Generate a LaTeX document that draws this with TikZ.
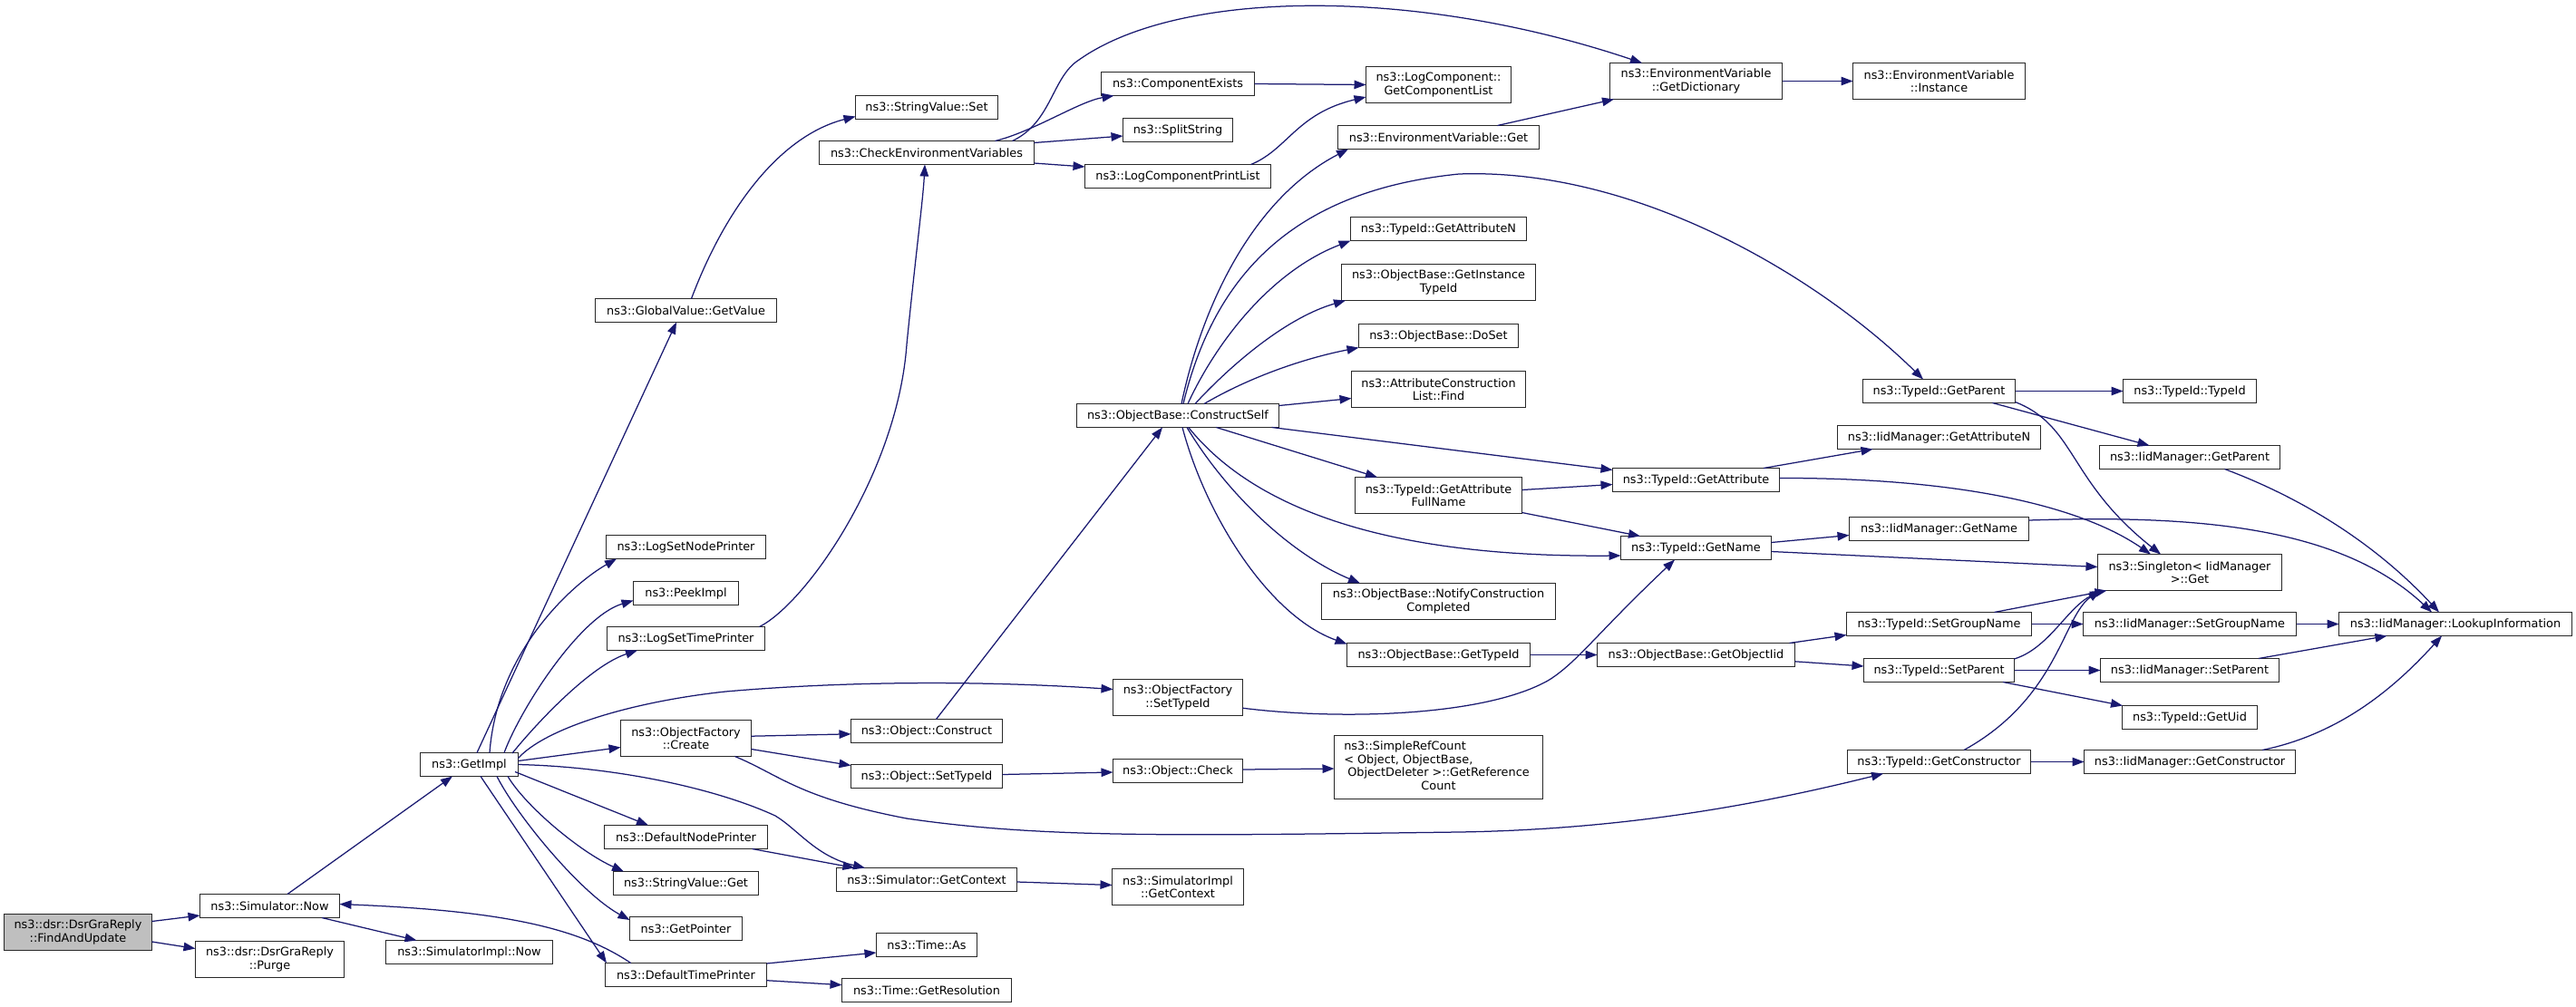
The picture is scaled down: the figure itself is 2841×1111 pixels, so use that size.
\documentclass[tikz,border=0pt]{standalone}
\usepackage{fontspec}
\setmainfont{DejaVu Sans}
\usetikzlibrary{arrows.meta}
\definecolor{edgeblue}{RGB}{25,25,112}
\definecolor{rootgray}{RGB}{191,191,191}
\definecolor{boxline}{RGB}{40,40,40}
\newcommand\nf{\fontsize{12.85}{14.5}\selectfont}
\tikzset{
  fn/.style={draw=boxline, line width=1.3pt, fill=white, inner sep=0pt, minimum height=26pt, font=\nf, align=center, text=black},
  fn2/.style={fn, minimum height=40pt},
  cg/.style={draw=edgeblue, line width=1.25pt, -{Triangle[length=13pt,width=9.5pt]}},
}
\begin{document}
\begin{tikzpicture}[x=1pt,y=-1pt]
\useasboundingbox (0,0) rectangle (2841,1111);
\fill[white] (0,0) rectangle (2841,1111);
% rank 0
\node[fn2, fill=rootgray, minimum width=163pt] (n1) at (86,1028.5) {ns3::dsr::DsrGraReply\\::FindAndUpdate};
% rank 1
\node[fn, minimum width=154pt] (simNow) at (297.5,999.5) {ns3::Simulator::Now};
\node[fn2, minimum width=164pt] (purge) at (297.5,1058.5) {ns3::dsr::DsrGraReply\\::Purge};
% rank 2
\node[fn, minimum width=108pt] (getImpl) at (517.5,843.5) {ns3::GetImpl};
\node[fn, minimum width=184pt] (simImplNow) at (517.5,1050.5) {ns3::SimulatorImpl::Now};
% rank 3
\node[fn, minimum width=200pt] (gvGetValue) at (756.5,342.5) {ns3::GlobalValue::GetValue};
\node[fn, minimum width=176pt] (logSetNode) at (756.5,603.5) {ns3::LogSetNodePrinter};
\node[fn, minimum width=116pt] (peekImpl) at (756.5,654.5) {ns3::PeekImpl};
\node[fn, minimum width=174pt] (logSetTime) at (756.5,704.5) {ns3::LogSetTimePrinter};
\node[fn2, minimum width=144pt] (ofCreate) at (756.5,814.5) {ns3::ObjectFactory\\::Create};
\node[fn, minimum width=180pt] (defNode) at (756.5,923.5) {ns3::DefaultNodePrinter};
\node[fn, minimum width=160pt] (svGet) at (756.5,974.5) {ns3::StringValue::Get};
\node[fn, minimum width=124pt] (getPointer) at (756.5,1024.5) {ns3::GetPointer};
\node[fn, minimum width=178pt] (defTime) at (756.5,1075.5) {ns3::DefaultTimePrinter};
% rank 4
\node[fn, minimum width=157pt] (svSet) at (1022,118.5) {ns3::StringValue::Set};
\node[fn, minimum width=237pt] (checkEnv) at (1022,168.5) {ns3::CheckEnvironmentVariables};
\node[fn, minimum width=167pt] (objConstruct) at (1022,806.5) {ns3::Object::Construct};
\node[fn, minimum width=167pt] (objSetTypeId) at (1022,856.5) {ns3::Object::SetTypeId};
\node[fn, minimum width=199pt] (simGetContext) at (1022,970.5) {ns3::Simulator::GetContext};
\node[fn, minimum width=111pt] (timeAs) at (1022,1042.5) {ns3::Time::As};
\node[fn, minimum width=187pt] (timeRes) at (1022,1092.5) {ns3::Time::GetResolution};
% rank 5
\node[fn, minimum width=169pt] (compExists) at (1299,92.5) {ns3::ComponentExists};
\node[fn, minimum width=121pt] (splitString) at (1299,143.5) {ns3::SplitString};
\node[fn, minimum width=205pt] (logCompPrint) at (1299,194.5) {ns3::LogComponentPrintList};
\node[fn, minimum width=223pt] (constructSelf) at (1299,458.5) {ns3::ObjectBase::ConstructSelf};
\node[fn2, minimum width=143pt] (ofSetTypeId) at (1299,769.5) {ns3::ObjectFactory\\::SetTypeId};
\node[fn, minimum width=143pt] (objCheck) at (1299,850.5) {ns3::Object::Check};
\node[fn2, minimum width=145pt] (simImplGetCtx) at (1299,978.5) {ns3::SimulatorImpl\\::GetContext};
% rank 6
\node[fn2, minimum width=160pt] (getCompList) at (1586.5,93.5) {ns3::LogComponent::\\GetComponentList};
\node[fn, minimum width=222pt] (envGet) at (1586.5,151.5) {ns3::EnvironmentVariable::Get};
\node[fn, minimum width=194pt] (tidGetAttrN) at (1586.5,252.5) {ns3::TypeId::GetAttributeN};
\node[fn2, minimum width=214pt] (getInstTid) at (1586.5,311.5) {ns3::ObjectBase::GetInstance\\TypeId};
\node[fn, minimum width=176pt] (doSet) at (1586.5,370.5) {ns3::ObjectBase::DoSet};
\node[fn2, minimum width=192pt] (aclFind) at (1586.5,429.5) {ns3::AttributeConstruction\\List::Find};
\node[fn2, minimum width=184pt] (getAttrFull) at (1586.5,546.5) {ns3::TypeId::GetAttribute\\FullName};
\node[fn2, minimum width=258pt] (notify) at (1586.5,663.5) {ns3::ObjectBase::NotifyConstruction\\Completed};
\node[fn, minimum width=202pt] (obGetTypeId) at (1586.5,722.5) {ns3::ObjectBase::GetTypeId};
\node[fn, minimum width=230pt, minimum height=70pt] (simpleRef) at (1586.5,846.5) {\begin{tabular}{@{}l@{}}\hspace*{-4pt}ns3::SimpleRefCount\\\hspace*{-4pt}< Object, ObjectBase,\\\multicolumn{1}{@{}c@{}}{ObjectDeleter >::GetReference}\\\multicolumn{1}{@{}c@{}}{Count}\end{tabular}};
% rank 7
\node[fn2, minimum width=190pt] (getDict) at (1870.5,89.5) {ns3::EnvironmentVariable\\::GetDictionary};
\node[fn, minimum width=184pt] (tidGetAttr) at (1870.5,529.5) {ns3::TypeId::GetAttribute};
\node[fn, minimum width=166pt] (tidGetName) at (1870.5,604.5) {ns3::TypeId::GetName};
\node[fn, minimum width=218pt] (getObjIid) at (1870.5,722.5) {ns3::ObjectBase::GetObjectIid};
% rank 8
\node[fn2, minimum width=190pt] (envInstance) at (2138.5,89.5) {ns3::EnvironmentVariable\\::Instance};
\node[fn, minimum width=168pt] (tidGetParent) at (2138.5,431.5) {ns3::TypeId::GetParent};
\node[fn, minimum width=224pt] (iidGetAttrN) at (2138.5,482.5) {ns3::IidManager::GetAttributeN};
\node[fn, minimum width=198pt] (iidGetName) at (2138.5,583.5) {ns3::IidManager::GetName};
\node[fn, minimum width=204pt] (tidSetGroup) at (2138.5,688.5) {ns3::TypeId::SetGroupName};
\node[fn, minimum width=166pt] (tidSetParent) at (2138.5,739.5) {ns3::TypeId::SetParent};
\node[fn, minimum width=202pt] (tidGetCtor) at (2138.5,840.5) {ns3::TypeId::GetConstructor};
% rank 9
\node[fn, minimum width=147pt] (tidTypeId) at (2415,431.5) {ns3::TypeId::TypeId};
\node[fn, minimum width=199pt] (iidGetParent) at (2415,504.5) {ns3::IidManager::GetParent};
\node[fn2, minimum width=203pt] (singleton) at (2415,631.5) {ns3::Singleton< IidManager\\ >::Get};
\node[fn, minimum width=235pt] (iidSetGroup) at (2415,688.5) {ns3::IidManager::SetGroupName};
\node[fn, minimum width=197pt] (iidSetParent) at (2415,739.5) {ns3::IidManager::SetParent};
\node[fn, minimum width=149pt] (tidGetUid) at (2415,791.5) {ns3::TypeId::GetUid};
\node[fn, minimum width=233pt] (iidGetCtor) at (2415,840.5) {ns3::IidManager::GetConstructor};
% rank 10
\node[fn, minimum width=257pt] (lookup) at (2708,688.5) {ns3::IidManager::LookupInformation};

% ---- edges ----
\draw[cg] ([shift={(81.5,-12)}]n1.center) -- ([shift={(-77,10.5)}]simNow.center);
\draw[cg] ([shift={(81.5,10.5)}]n1.center) -- ([shift={(-82,-12)}]purge.center);
\draw[cg] ([shift={(19.5,-13)}]simNow.center) -- ([shift={(-18.5,13)}]getImpl.center);
\draw[cg] ([shift={(57.5,13)}]simNow.center) -- ([shift={(-58,-13)}]simImplNow.center);
\draw[cg] ([shift={(8.5,-13)}]getImpl.center) -- ([shift={(-10.5,13)}]gvGetValue.center);
\draw[cg] ([shift={(22.5,-13)}]getImpl.center) .. controls (548,720) and (630,645) .. ([shift={(-76.5,13)}]logSetNode.center);
\draw[cg] ([shift={(38.5,-13)}]getImpl.center) .. controls (575,780) and (640,680) .. ([shift={(-58,8)}]peekImpl.center);
\draw[cg] ([shift={(47.5,-12.5)}]getImpl.center) .. controls (590,800) and (650,735) .. ([shift={(-53.5,13)}]logSetTime.center);
\draw[cg] ([shift={(54,-7)}]getImpl.center) .. controls (600,805) and (690,775) .. (800,763) .. controls (950,750) and (1100,752) .. ([shift={(-71.5,-9)}]ofSetTypeId.center);
\draw[cg] ([shift={(54,-4)}]getImpl.center) -- ([shift={(-72,10)}]ofCreate.center);
\draw[cg] ([shift={(54,0)}]getImpl.center) .. controls (680,846) and (790,870) .. (855,900) .. controls (880,915) and (900,945) .. ([shift={(-68,-13)}]simGetContext.center);
\draw[cg] ([shift={(50.5,8)}]getImpl.center) -- ([shift={(-41.5,-13)}]defNode.center);
\draw[cg] ([shift={(42.5,13)}]getImpl.center) .. controls (580,890) and (640,940) .. ([shift={(-68.5,-13)}]svGet.center);
\draw[cg] ([shift={(30.5,13)}]getImpl.center) .. controls (570,900) and (640,985) .. ([shift={(-62,-9.5)}]getPointer.center);
\draw[cg] ([shift={(12.5,13)}]getImpl.center) -- ([shift={(-87.5,-13)}]defTime.center);
\draw[cg] ([shift={(-60.8,-13)}]defTime.center) .. controls (640,1025) and (560,1005) .. ([shift={(77,-2)}]simNow.center);
\draw[cg] ([shift={(81,-13)}]logSetTime.center) .. controls (890,665) and (990,520) .. (1000,380) .. controls (1010,280) and (1018,220) .. ([shift={(-2,13)}]checkEnv.center);
\draw[cg] ([shift={(6,-13)}]gvGetValue.center) .. controls (800,230) and (860,150) .. ([shift={(-78.5,10)}]svSet.center);
\draw[cg] ([shift={(75.5,-13)}]checkEnv.center) .. controls (1140,145) and (1190,112) .. ([shift={(-70.5,13)}]compExists.center);
\draw[cg] ([shift={(118.5,-11)}]checkEnv.center) -- ([shift={(-60.5,6.5)}]splitString.center);
\draw[cg] ([shift={(118.5,11.5)}]checkEnv.center) -- ([shift={(-102.5,-10.5)}]logCompPrint.center);
\draw[cg] ([shift={(94.5,-13)}]checkEnv.center) .. controls (1160,135) and (1160,85) .. (1190,66) .. controls (1300,-12) and (1560,-15) .. ([shift={(-59.5,-20)}]getDict.center);
\draw[cg] ([shift={(84.5,0)}]compExists.center) -- ([shift={(-80,0)}]getCompList.center);
\draw[cg] ([shift={(80.6,-13)}]logCompPrint.center) .. controls (1420,165) and (1430,125) .. ([shift={(-80,13.5)}]getCompList.center);
\draw[cg] ([shift={(65,-13)}]envGet.center) -- ([shift={(-90.5,20)}]getDict.center);
\draw[cg] ([shift={(95,0)}]getDict.center) -- ([shift={(-95,0)}]envInstance.center);
\draw[cg] ([shift={(72,-2.3)}]ofCreate.center) -- ([shift={(-83.5,3.3)}]objConstruct.center);
\draw[cg] ([shift={(72,12)}]ofCreate.center) -- ([shift={(-83.5,-12)}]objSetTypeId.center);
\draw[cg] ([shift={(54,20)}]ofCreate.center) .. controls (860,855) and (880,880) .. (1000,903) .. controls (1150,925) and (1300,922) .. (1609,918) .. controls (1800,915) and (1950,885) .. ([shift={(-61.5,13)}]tidGetCtor.center);
\draw[cg] ([shift={(10.5,-13)}]objConstruct.center) -- ([shift={(-17,13)}]constructSelf.center);
\draw[cg] ([shift={(83.5,-2)}]objSetTypeId.center) -- ([shift={(-71.5,1.5)}]objCheck.center);
\draw[cg] ([shift={(71.5,-1.5)}]objCheck.center) -- ([shift={(-115,1.5)}]simpleRef.center);
\draw[cg] ([shift={(73,13)}]defNode.center) -- ([shift={(-79.5,-13)}]simGetContext.center);
\draw[cg] ([shift={(99.5,2.5)}]simGetContext.center) -- ([shift={(-72.5,-2)}]simImplGetCtx.center);
\draw[cg] ([shift={(89,-12.5)}]defTime.center) -- ([shift={(-55.5,8.5)}]timeAs.center);
\draw[cg] ([shift={(89,6.2)}]defTime.center) -- ([shift={(-93.5,-5.8)}]timeRes.center);
\draw[cg] ([shift={(4,-13)}]constructSelf.center) .. controls (1325,340) and (1380,220) .. ([shift={(-99.5,13)}]envGet.center);
\draw[cg] ([shift={(11,-13)}]constructSelf.center) .. controls (1340,380) and (1400,300) .. ([shift={(-97,13)}]tidGetAttrN.center);
\draw[cg] ([shift={(19,-13)}]constructSelf.center) .. controls (1360,400) and (1420,350) .. ([shift={(-102.5,20)}]getInstTid.center);
\draw[cg] ([shift={(29,-13)}]constructSelf.center) .. controls (1380,415) and (1440,395) .. ([shift={(-88,13)}]doSet.center);
\draw[cg] ([shift={(111.5,-11)}]constructSelf.center) -- ([shift={(-96,10)}]aclFind.center);
\draw[cg] ([shift={(42.4,13)}]constructSelf.center) -- ([shift={(-67.5,-20)}]getAttrFull.center);
\draw[cg] ([shift={(103.6,13)}]constructSelf.center) -- ([shift={(-92,-11)}]tidGetAttr.center);
\draw[cg] ([shift={(11.7,13)}]constructSelf.center) .. controls (1390,570) and (1550,615) .. ([shift={(-83,8.5)}]tidGetName.center);
\draw[cg] ([shift={(10,13)}]constructSelf.center) .. controls (1350,540) and (1420,610) .. ([shift={(-86.5,-20)}]notify.center);
\draw[cg] ([shift={(5,13)}]constructSelf.center) .. controls (1330,570) and (1400,680) .. ([shift={(-101,-12)}]obGetTypeId.center);
\draw[cg] ([shift={(6,-13)}]constructSelf.center) .. controls (1340,300) and (1430,210) .. (1609,192) .. controls (1800,185) and (2000,300) .. ([shift={(-17.5,-13)}]tidGetParent.center);
\draw[cg] ([shift={(92,-6)}]getAttrFull.center) -- ([shift={(-92,5)}]tidGetAttr.center);
\draw[cg] ([shift={(92,19)}]getAttrFull.center) -- ([shift={(-61.5,-13)}]tidGetName.center);
\draw[cg] ([shift={(101,0)}]obGetTypeId.center) -- ([shift={(-109,0)}]getObjIid.center);
\draw[cg] ([shift={(71.5,11.7)}]ofSetTypeId.center) .. controls (1480,795) and (1640,790) .. (1708.7,750) .. controls (1740,730) and (1760,700) .. ([shift={(-23.5,13)}]tidGetName.center);
\draw[cg] ([shift={(84,0)}]tidGetParent.center) -- ([shift={(-73.5,0)}]tidTypeId.center);
\draw[cg] ([shift={(59,13)}]tidGetParent.center) -- ([shift={(-44.5,-13)}]iidGetParent.center);
\draw[cg] ([shift={(84,12)}]tidGetParent.center) .. controls (2290,470) and (2280,530) .. ([shift={(-32,-20)}]singleton.center);
\draw[cg] ([shift={(74.5,-13)}]tidGetAttr.center) -- ([shift={(-73,13)}]iidGetAttrN.center);
\draw[cg] ([shift={(92,-2)}]tidGetAttr.center) .. controls (2150,527) and (2290,555) .. ([shift={(-43,-20)}]singleton.center);
\draw[cg] ([shift={(83,-6)}]tidGetName.center) -- ([shift={(-99,7)}]iidGetName.center);
\draw[cg] ([shift={(83,4)}]tidGetName.center) -- ([shift={(-101.5,-6)}]singleton.center);
\draw[cg] ([shift={(103,-13)}]getObjIid.center) -- ([shift={(-102,12)}]tidSetGroup.center);
\draw[cg] ([shift={(109,7.3)}]getObjIid.center) -- ([shift={(-83,-4.5)}]tidSetParent.center);
\draw[cg] ([shift={(61,-13)}]tidSetGroup.center) -- ([shift={(-91.5,20)}]singleton.center);
\draw[cg] ([shift={(102,0)}]tidSetGroup.center) -- ([shift={(-117.5,0)}]iidSetGroup.center);
\draw[cg] ([shift={(83,-12.5)}]tidSetParent.center) .. controls (2260,715) and (2280,670) .. ([shift={(-97,20)}]singleton.center);
\draw[cg] ([shift={(83,0)}]tidSetParent.center) -- ([shift={(-98.5,0)}]iidSetParent.center);
\draw[cg] ([shift={(70.5,13)}]tidSetParent.center) -- ([shift={(-74,-13)}]tidGetUid.center);
\draw[cg] ([shift={(27.5,-13)}]tidGetCtor.center) .. controls (2270,770) and (2275,680) .. ([shift={(-99,20)}]singleton.center);
\draw[cg] ([shift={(101,0)}]tidGetCtor.center) -- ([shift={(-116.5,0)}]iidGetCtor.center);
\draw[cg] ([shift={(38.5,13)}]iidGetParent.center) .. controls (2540,550) and (2620,600) .. ([shift={(-18,-13)}]lookup.center);
\draw[cg] ([shift={(99,-9.5)}]iidGetName.center) .. controls (2420,568) and (2580,580) .. ([shift={(-26,-13)}]lookup.center);
\draw[cg] ([shift={(117.5,0)}]iidSetGroup.center) -- ([shift={(-128.5,0)}]lookup.center);
\draw[cg] ([shift={(76,-13)}]iidSetParent.center) -- ([shift={(-75.5,13)}]lookup.center);
\draw[cg] ([shift={(80,-13)}]iidGetCtor.center) .. controls (2580,810) and (2640,760) .. ([shift={(-15,13)}]lookup.center);
\end{tikzpicture}
\end{document}
